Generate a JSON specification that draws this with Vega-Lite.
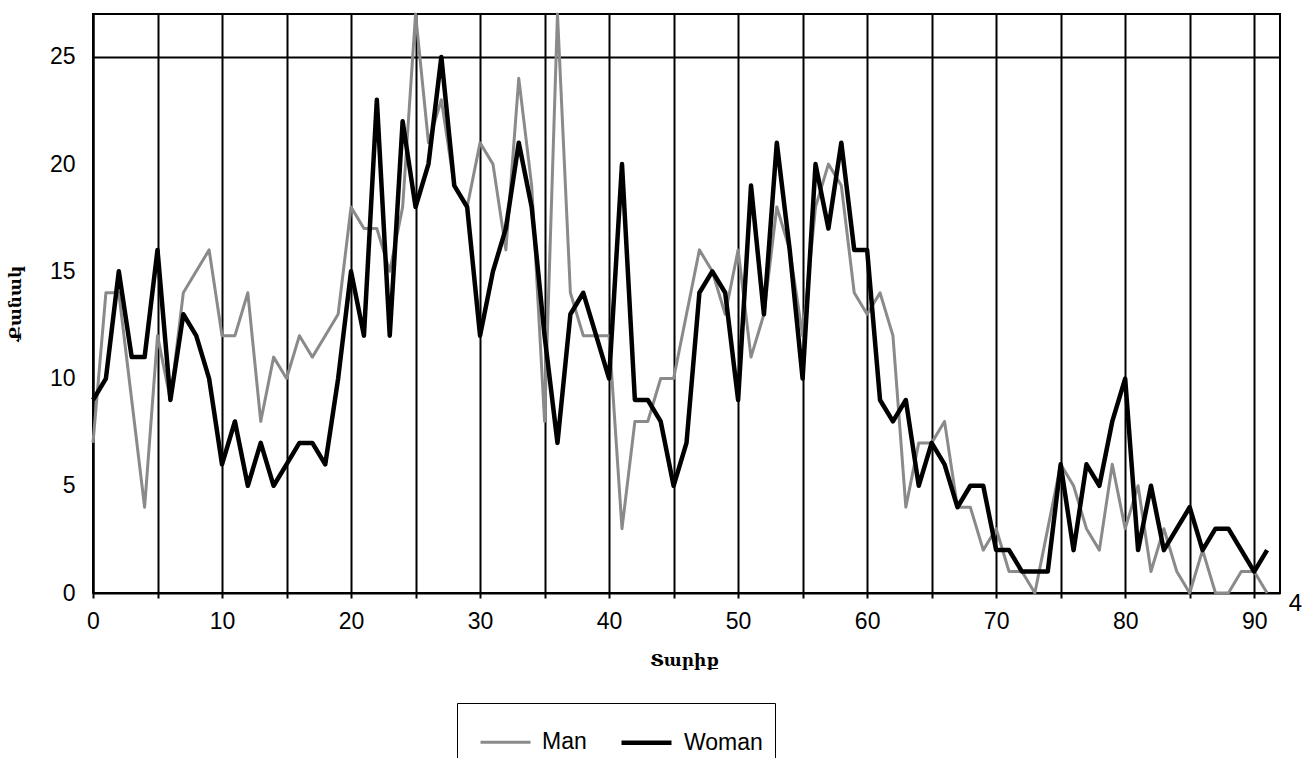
{
  "$schema": "https://vega.github.io/schema/vega-lite/v6.json",
  "width": 1187,
  "height": 579,
  "autosize": {"type": "none"},
  "padding": {"left": 93, "top": 14, "right": 27, "bottom": 165},
  "background": "white",
  "config": {"view": {"stroke": "black", "strokeWidth": 2}, "font": "Liberation Sans"},
  "datasets": {
    "counts": [
      {"age":0,"sex":"Man","count":7},{"age":1,"sex":"Man","count":14},{"age":2,"sex":"Man","count":14},{"age":3,"sex":"Man","count":9},{"age":4,"sex":"Man","count":4},{"age":5,"sex":"Man","count":12},{"age":6,"sex":"Man","count":9},{"age":7,"sex":"Man","count":14},{"age":8,"sex":"Man","count":15},{"age":9,"sex":"Man","count":16},
      {"age":10,"sex":"Man","count":12},{"age":11,"sex":"Man","count":12},{"age":12,"sex":"Man","count":14},{"age":13,"sex":"Man","count":8},{"age":14,"sex":"Man","count":11},{"age":15,"sex":"Man","count":10},{"age":16,"sex":"Man","count":12},{"age":17,"sex":"Man","count":11},{"age":18,"sex":"Man","count":12},{"age":19,"sex":"Man","count":13},
      {"age":20,"sex":"Man","count":18},{"age":21,"sex":"Man","count":17},{"age":22,"sex":"Man","count":17},{"age":23,"sex":"Man","count":15},{"age":24,"sex":"Man","count":18},{"age":25,"sex":"Man","count":27},{"age":26,"sex":"Man","count":21},{"age":27,"sex":"Man","count":23},{"age":28,"sex":"Man","count":19},{"age":29,"sex":"Man","count":18},
      {"age":30,"sex":"Man","count":21},{"age":31,"sex":"Man","count":20},{"age":32,"sex":"Man","count":16},{"age":33,"sex":"Man","count":24},{"age":34,"sex":"Man","count":19},{"age":35,"sex":"Man","count":8},{"age":36,"sex":"Man","count":27},{"age":37,"sex":"Man","count":14},{"age":38,"sex":"Man","count":12},{"age":39,"sex":"Man","count":12},
      {"age":40,"sex":"Man","count":12},{"age":41,"sex":"Man","count":3},{"age":42,"sex":"Man","count":8},{"age":43,"sex":"Man","count":8},{"age":44,"sex":"Man","count":10},{"age":45,"sex":"Man","count":10},{"age":46,"sex":"Man","count":13},{"age":47,"sex":"Man","count":16},{"age":48,"sex":"Man","count":15},{"age":49,"sex":"Man","count":13},
      {"age":50,"sex":"Man","count":16},{"age":51,"sex":"Man","count":11},{"age":52,"sex":"Man","count":13},{"age":53,"sex":"Man","count":18},{"age":54,"sex":"Man","count":16},{"age":55,"sex":"Man","count":12},{"age":56,"sex":"Man","count":18},{"age":57,"sex":"Man","count":20},{"age":58,"sex":"Man","count":19},{"age":59,"sex":"Man","count":14},
      {"age":60,"sex":"Man","count":13},{"age":61,"sex":"Man","count":14},{"age":62,"sex":"Man","count":12},{"age":63,"sex":"Man","count":4},{"age":64,"sex":"Man","count":7},{"age":65,"sex":"Man","count":7},{"age":66,"sex":"Man","count":8},{"age":67,"sex":"Man","count":4},{"age":68,"sex":"Man","count":4},{"age":69,"sex":"Man","count":2},
      {"age":70,"sex":"Man","count":3},{"age":71,"sex":"Man","count":1},{"age":72,"sex":"Man","count":1},{"age":73,"sex":"Man","count":0},{"age":74,"sex":"Man","count":3},{"age":75,"sex":"Man","count":6},{"age":76,"sex":"Man","count":5},{"age":77,"sex":"Man","count":3},{"age":78,"sex":"Man","count":2},{"age":79,"sex":"Man","count":6},
      {"age":80,"sex":"Man","count":3},{"age":81,"sex":"Man","count":5},{"age":82,"sex":"Man","count":1},{"age":83,"sex":"Man","count":3},{"age":84,"sex":"Man","count":1},{"age":85,"sex":"Man","count":0},{"age":86,"sex":"Man","count":2},{"age":87,"sex":"Man","count":0},{"age":88,"sex":"Man","count":0},{"age":89,"sex":"Man","count":1},
      {"age":90,"sex":"Man","count":1},{"age":91,"sex":"Man","count":0},
      {"age":0,"sex":"Woman","count":9},{"age":1,"sex":"Woman","count":10},{"age":2,"sex":"Woman","count":15},{"age":3,"sex":"Woman","count":11},{"age":4,"sex":"Woman","count":11},{"age":5,"sex":"Woman","count":16},{"age":6,"sex":"Woman","count":9},{"age":7,"sex":"Woman","count":13},{"age":8,"sex":"Woman","count":12},{"age":9,"sex":"Woman","count":10},
      {"age":10,"sex":"Woman","count":6},{"age":11,"sex":"Woman","count":8},{"age":12,"sex":"Woman","count":5},{"age":13,"sex":"Woman","count":7},{"age":14,"sex":"Woman","count":5},{"age":15,"sex":"Woman","count":6},{"age":16,"sex":"Woman","count":7},{"age":17,"sex":"Woman","count":7},{"age":18,"sex":"Woman","count":6},{"age":19,"sex":"Woman","count":10},
      {"age":20,"sex":"Woman","count":15},{"age":21,"sex":"Woman","count":12},{"age":22,"sex":"Woman","count":23},{"age":23,"sex":"Woman","count":12},{"age":24,"sex":"Woman","count":22},{"age":25,"sex":"Woman","count":18},{"age":26,"sex":"Woman","count":20},{"age":27,"sex":"Woman","count":25},{"age":28,"sex":"Woman","count":19},{"age":29,"sex":"Woman","count":18},
      {"age":30,"sex":"Woman","count":12},{"age":31,"sex":"Woman","count":15},{"age":32,"sex":"Woman","count":17},{"age":33,"sex":"Woman","count":21},{"age":34,"sex":"Woman","count":18},{"age":35,"sex":"Woman","count":12},{"age":36,"sex":"Woman","count":7},{"age":37,"sex":"Woman","count":13},{"age":38,"sex":"Woman","count":14},{"age":39,"sex":"Woman","count":12},
      {"age":40,"sex":"Woman","count":10},{"age":41,"sex":"Woman","count":20},{"age":42,"sex":"Woman","count":9},{"age":43,"sex":"Woman","count":9},{"age":44,"sex":"Woman","count":8},{"age":45,"sex":"Woman","count":5},{"age":46,"sex":"Woman","count":7},{"age":47,"sex":"Woman","count":14},{"age":48,"sex":"Woman","count":15},{"age":49,"sex":"Woman","count":14},
      {"age":50,"sex":"Woman","count":9},{"age":51,"sex":"Woman","count":19},{"age":52,"sex":"Woman","count":13},{"age":53,"sex":"Woman","count":21},{"age":54,"sex":"Woman","count":16},{"age":55,"sex":"Woman","count":10},{"age":56,"sex":"Woman","count":20},{"age":57,"sex":"Woman","count":17},{"age":58,"sex":"Woman","count":21},{"age":59,"sex":"Woman","count":16},
      {"age":60,"sex":"Woman","count":16},{"age":61,"sex":"Woman","count":9},{"age":62,"sex":"Woman","count":8},{"age":63,"sex":"Woman","count":9},{"age":64,"sex":"Woman","count":5},{"age":65,"sex":"Woman","count":7},{"age":66,"sex":"Woman","count":6},{"age":67,"sex":"Woman","count":4},{"age":68,"sex":"Woman","count":5},{"age":69,"sex":"Woman","count":5},
      {"age":70,"sex":"Woman","count":2},{"age":71,"sex":"Woman","count":2},{"age":72,"sex":"Woman","count":1},{"age":73,"sex":"Woman","count":1},{"age":74,"sex":"Woman","count":1},{"age":75,"sex":"Woman","count":6},{"age":76,"sex":"Woman","count":2},{"age":77,"sex":"Woman","count":6},{"age":78,"sex":"Woman","count":5},{"age":79,"sex":"Woman","count":8},
      {"age":80,"sex":"Woman","count":10},{"age":81,"sex":"Woman","count":2},{"age":82,"sex":"Woman","count":5},{"age":83,"sex":"Woman","count":2},{"age":84,"sex":"Woman","count":3},{"age":85,"sex":"Woman","count":4},{"age":86,"sex":"Woman","count":2},{"age":87,"sex":"Woman","count":3},{"age":88,"sex":"Woman","count":3},{"age":89,"sex":"Woman","count":2},
      {"age":90,"sex":"Woman","count":1},{"age":91,"sex":"Woman","count":2}
    ],
    "notes": [{"age": 93.2, "count": -0.5, "label": "4"}]
  },
  "layer": [
    {
      "data": {"name": "counts"},
      "mark": {"type": "line", "strokeJoin": "round"},
      "encoding": {
        "x": {
          "field": "age", "type": "quantitative",
          "scale": {"domain": [0, 92], "nice": false, "zero": false},
          "axis": {
            "values": [0,5,10,15,20,25,30,35,40,45,50,55,60,65,70,75,80,85,90],
            "labelExpr": "datum.value % 10 === 0 ? datum.label : ''",
            "labelFlush": false, "labelOverlap": false,
            "grid": true, "gridColor": "black", "gridWidth": 2, "gridOpacity": 1,
            "domainColor": "black", "domainWidth": 2,
            "tickColor": "black", "tickSize": 5, "tickWidth": 2,
            "labelFontSize": 23, "labelColor": "black", "labelPadding": 12, "labelFont": "Liberation Sans",
            "title": "Տարիք", "titleFont": "DejaVu Serif", "titleFontSize": 17, "titleFontWeight": "bold", "titleColor": "black",
            "titleX": 591, "titleY": 67, "titleBaseline": "middle", "titleAlign": "center"
          }
        },
        "y": {
          "field": "count", "type": "quantitative",
          "scale": {"domain": [0, 27], "nice": false},
          "axis": {
            "values": [0,5,10,15,20,25],
            "grid": true, "gridColor": "black", "gridWidth": 2,
            "gridOpacity": {"condition": {"test": "datum.value === 25", "value": 1}, "value": 0},
            "ticks": false,
            "domainColor": "black", "domainWidth": 2,
            "labelFontSize": 23, "labelColor": "black", "labelPadding": 18, "labelFont": "Liberation Sans",
            "title": "Քանակ", "titleFont": "DejaVu Serif", "titleFontSize": 17, "titleFontWeight": "bold", "titleColor": "black",
            "titleX": -78, "titleY": 289, "titleAngle": 270, "titleBaseline": "middle", "titleAlign": "center"
          }
        },
        "color": {
          "field": "sex", "type": "nominal",
          "scale": {"domain": ["Man", "Woman"], "range": ["#8a8a8a", "#000000"]},
          "legend": {
            "title": null, "orient": "none", "legendX": 364, "legendY": 689,
            "direction": "horizontal", "strokeColor": "black", "padding": 12,
            "labelFontSize": 23, "labelFont": "Liberation Sans", "labelColor": "black",
            "symbolType": "stroke", "symbolSize": 2500, "symbolStrokeWidth": 4, "symbolOffset": 10,
            "columnPadding": 22, "labelOffset": 10
          }
        },
        "strokeWidth": {
          "field": "sex", "type": "nominal",
          "scale": {"domain": ["Man", "Woman"], "range": [3, 4.5]},
          "legend": null
        }
      }
    },
    {
      "data": {"name": "notes"},
      "mark": {"type": "text", "fontSize": 24, "font": "Liberation Sans", "color": "black", "baseline": "middle", "align": "center"},
      "encoding": {
        "x": {"field": "age", "type": "quantitative"},
        "y": {"field": "count", "type": "quantitative"},
        "text": {"field": "label"}
      }
    }
  ]
}
